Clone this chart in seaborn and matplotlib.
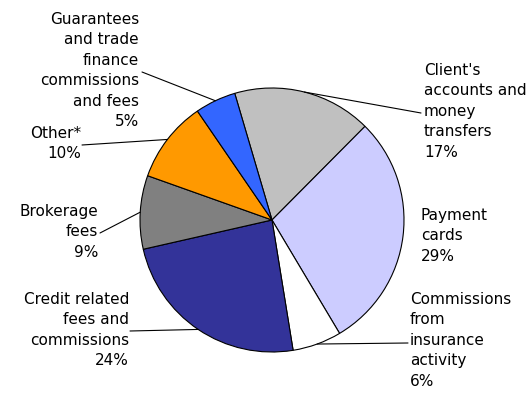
import matplotlib
matplotlib.use("Agg")
import matplotlib.pyplot as plt
import numpy as np
import seaborn as sns

# Fee and commission income structure (share of total, %)
categories = [
    "Client's\naccounts and\nmoney\ntransfers",
    "Payment\ncards",
    "Commissions\nfrom\ninsurance\nactivity",
    "Credit related\nfees and\ncommissions",
    "Brokerage\nfees",
    "Other*",
    "Guarantees\nand trade\nfinance\ncommissions\nand fees",
]
shares = [17, 29, 6, 24, 9, 10, 5]

colors = ["#C0C0C0", "#CCCCFF", "#FFFFFF", "#333399", "#808080", "#FF9900", "#3366FF"]

sns.set_theme(style="white")
plt.rcParams["font.family"] = ["DejaVu Sans"]

W, H = 530, 393
CX, CY, R = 272, 220, 132  # pie centre and radius in pixels

fig = plt.figure(figsize=(W / 100, H / 100), dpi=100)
fig.patch.set_facecolor("white")
ax = fig.add_axes([(CX - R) / W, (H - CY - R) / H, 2 * R / W, 2 * R / H])
ax.set_axis_off()

wedges, _ = ax.pie(
    shares,
    colors=colors,
    startangle=106.4,
    counterclock=False,
    radius=1.0,
    wedgeprops=dict(edgecolor="black", linewidth=0.8),
)
ax.set_xlim(-1, 1)
ax.set_ylim(-1, 1)
ax.set_aspect("equal")


def px_to_data(px, py):
    return (px - CX) / R, (CY - py) / R


# label anchor (x, top y), alignment, leader start (or None)
layout = [
    ((424, 63), "left", (421, 113)),
    ((421, 208), "left", None),
    ((410, 292), "left", (408, 343)),
    ((129, 292), "right", (130, 331)),
    ((98, 204), "right", (100, 233)),
    ((81, 126), "right", (82, 145)),
    ((139, 12), "right", (142, 72)),
]

for wedge, name, val, (pos, ha, lead) in zip(wedges, categories, shares, layout):
    tx, ty = px_to_data(*pos)
    ax.text(tx, ty, f"{name}\n{val}%", ha=ha, va="top", multialignment=ha,
            fontsize=11, linespacing=1.45, color="black", clip_on=False)
    if lead is not None:
        mid = np.deg2rad((wedge.theta1 + wedge.theta2) / 2)
        ex, ey = np.cos(mid), np.sin(mid)
        sx, sy = px_to_data(*lead)
        ax.plot([sx, ex], [sy, ey], color="black", lw=0.8, clip_on=False)

fig.savefig("out.png", dpi=100, facecolor="white")
